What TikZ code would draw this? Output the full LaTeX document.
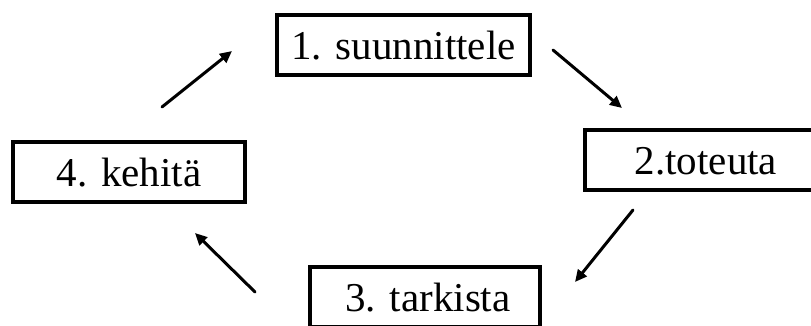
\documentclass[tikz,border=0pt]{standalone}
\usepackage{fontspec}
\setmainfont{Liberation Serif}
\usetikzlibrary{arrows.meta}
\begin{document}
\begin{tikzpicture}[x=1pt,y=-1pt,
  stepbox/.style={draw=black,line width=3.3pt,fill=white,inner sep=0pt,
    minimum height=60pt,text height=28pt,text depth=0pt,
    font=\fontsize{41}{41}\selectfont},
  cyc/.style={line width=3pt,-{Triangle[length=12pt,width=11pt]},line cap=round}]
\useasboundingbox (0,0) rectangle (811,325);
\clip (0,0) rectangle (811,325);
\fill[white] (0,0) rectangle (811,325);
\node[stepbox,minimum width=253pt] (s1) at (403.5,45) {1. suunnittele};
\node[stepbox,minimum width=242pt] (s2) at (706,160) {2.toteuta};
\node[stepbox,minimum width=230pt] (s3) at (425,297) {\hspace{6pt}3. tarkista};
\node[stepbox,minimum width=232pt] (s4) at (129,172) {4. kehitä\hspace{18pt}};
\coordinate (a1s) at (162,107); \coordinate (a1e) at (232,51);
\coordinate (a2s) at (553,50);  \coordinate (a2e) at (622,108);
\coordinate (a3s) at (633,210); \coordinate (a3e) at (575,282);
\coordinate (a4s) at (255,292); \coordinate (a4e) at (195,233);
\draw[cyc] (a1s) -- (a1e);
\draw[cyc] (a2s) -- (a2e);
\draw[cyc] (a3s) -- (a3e);
\draw[cyc] (a4s) -- (a4e);
\end{tikzpicture}
\end{document}
